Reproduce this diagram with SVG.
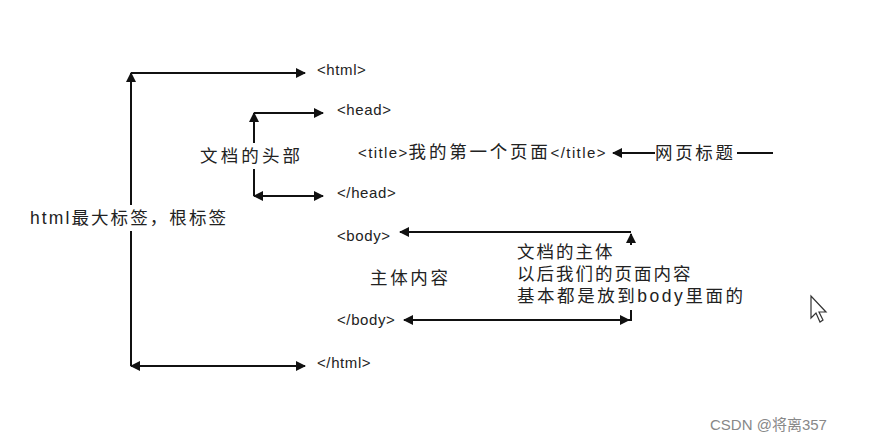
<svg xmlns="http://www.w3.org/2000/svg" width="871" height="442" viewBox="0 0 871 442">
<style>
text{font-family:"Liberation Sans","Noto Sans CJK SC",sans-serif;fill:#222}
.t{font-size:15px;letter-spacing:0.6px}
.c{font-size:17.5px;letter-spacing:2px}
.l{stroke:#111;stroke-width:2;fill:none}
</style>
<defs>
<marker id="a" viewBox="0 0 10 10" refX="9" refY="5" markerWidth="10" markerHeight="10" markerUnits="userSpaceOnUse" orient="auto-start-reverse"><path d="M0,0L10,5L0,10z" fill="#111"/></marker>
</defs>
<rect width="871" height="442" fill="#fff"/>
<g id="connectors">
<path class="l" d="M131,366V73" marker-end="url(#a)"/>
<path class="l" d="M131,73H305" marker-end="url(#a)"/>
<path class="l" d="M131,366H305" marker-start="url(#a)" marker-end="url(#a)"/>
<path class="l" d="M254,196V113" marker-end="url(#a)"/>
<path class="l" d="M254,113H323" marker-end="url(#a)"/>
<path class="l" d="M254,196H323" marker-start="url(#a)" marker-end="url(#a)"/>
<path class="l" d="M655,153H613" marker-end="url(#a)"/>
<path class="l" d="M737,153H773"/>
<path class="l" d="M631,232H400" marker-end="url(#a)"/>
<path class="l" d="M631,245V234" marker-end="url(#a)"/>
<path class="l" d="M631,310V320H404" marker-end="url(#a)"/>
<path class="l" d="M600,320H629" marker-end="url(#a)"/>
</g>
<g id="root-label"><rect x="28" y="205" width="202" height="26" fill="#fff"/><text class="c" x="30" y="224" textLength="198">html最大标签，根标签</text></g>
<g id="head-label"><rect x="198" y="143" width="106" height="26" fill="#fff"/><text class="c" x="200" y="162" textLength="102">文档的头部</text></g>
<g id="html-open"><text class="t" x="317" y="75">&lt;html&gt;</text></g>
<g id="head-open"><text class="t" x="337" y="115">&lt;head&gt;</text></g>
<g id="title"><text class="t" x="358" y="158" textLength="248">&lt;title&gt;<tspan class="c">我的第一个页面</tspan>&lt;/title&gt;</text></g>
<g id="title-label"><text class="c" x="655" y="159" textLength="80">网页标题</text></g>
<g id="head-close"><text class="t" x="337" y="198">&lt;/head&gt;</text></g>
<g id="body-open"><text class="t" x="337" y="241">&lt;body&gt;</text></g>
<g id="body-content"><text class="c" x="370" y="284" textLength="80">主体内容</text></g>
<g id="body-label"><text class="c" x="517" y="258">文档的主体</text><text class="c" x="517" y="280">以后我们的页面内容</text><text class="c" x="517" y="302" textLength="228">基本都是放到body里面的</text></g>
<g id="body-close"><text class="t" x="337" y="325">&lt;/body&gt;</text></g>
<g id="html-close"><text class="t" x="317" y="368">&lt;/html&gt;</text></g>
<path d="M811,296V318L816,313L820,322L823,320L819,312L826,312Z" fill="#fff" stroke="#333" stroke-width="1.2"/>
<text x="710" y="430" style="font-size:15px;fill:#888;letter-spacing:0">CSDN @将离357</text>
</svg>
